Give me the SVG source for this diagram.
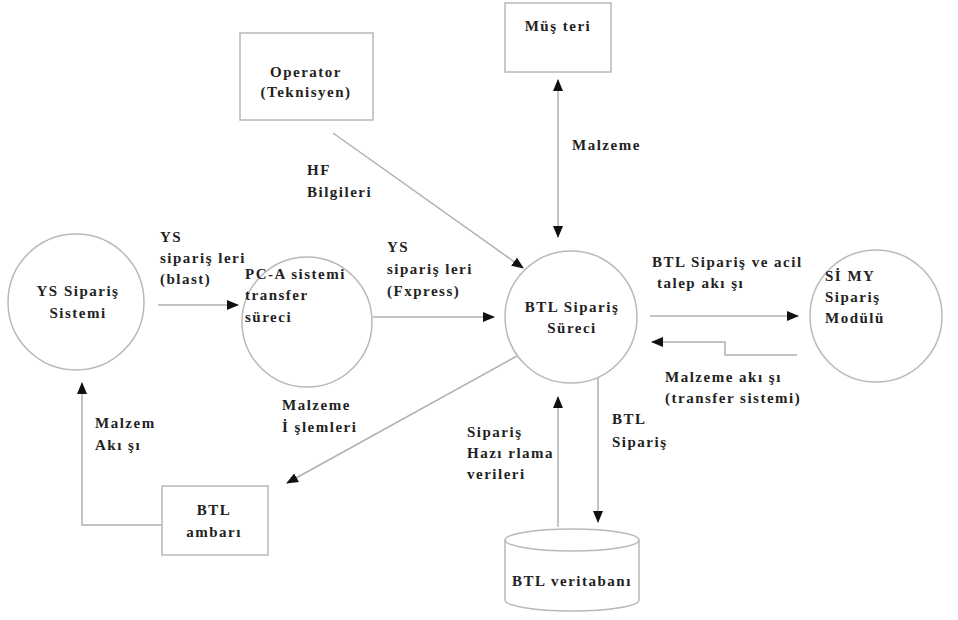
<svg xmlns="http://www.w3.org/2000/svg" width="958" height="620" viewBox="0 0 958 620">
  <style>
    .shape { fill: #fff; stroke: #b8b8b8; stroke-width: 1.5; }
    .flow { fill: none; stroke: #b0b0b0; stroke-width: 1.5; }
    text { font-family: "Liberation Serif", "Times New Roman", serif; font-size: 15px; font-weight: bold; fill: #222; letter-spacing: 1.5px; }
    .c { text-anchor: middle; }
  </style>
  <defs>
    <marker id="head" markerWidth="12" markerHeight="10" refX="11" refY="5" orient="auto-start-reverse" markerUnits="userSpaceOnUse">
      <path d="M0,0 L12,5 L0,10 z" fill="#111"/>
    </marker>
  </defs>
  <rect width="958" height="620" fill="#fff"/>

  <!-- data flows -->
  <g id="connectors">
    <path class="flow" d="M158,305 H238" marker-end="url(#head)"/>
    <path class="flow" d="M373,317 H494" marker-end="url(#head)"/>
    <path class="flow" d="M333,133 L523,268" marker-end="url(#head)"/>
    <path class="flow" d="M558,80 V237" marker-start="url(#head)" marker-end="url(#head)"/>
    <path class="flow" d="M650,316 H798" marker-end="url(#head)"/>
    <path class="flow" d="M797,355 H725 V342 H652" marker-end="url(#head)"/>
    <path class="flow" d="M517,356 L287,483" marker-end="url(#head)"/>
    <path class="flow" d="M162,525 H82 V383" marker-end="url(#head)"/>
    <path class="flow" d="M558,527 V397" marker-end="url(#head)"/>
    <path class="flow" d="M598,377 V522" marker-end="url(#head)"/>

    <text x="160" y="242">YS</text>
    <text x="160" y="263">sipariş leri</text>
    <text x="160" y="284">(blast)</text>

    <text x="387" y="252">YS</text>
    <text x="387" y="274">sipariş leri</text>
    <text x="387" y="296">(Fxpress)</text>

    <text x="307" y="175">HF</text>
    <text x="307" y="197">Bilgileri</text>

    <text x="572" y="150">Malzeme</text>

    <text x="652" y="267">BTL Sipariş ve acil</text>
    <text x="657" y="288">talep akı şı</text>

    <text x="665" y="382">Malzeme akı şı</text>
    <text x="665" y="403">(transfer sistemi)</text>

    <text x="282" y="410">Malzeme</text>
    <text x="282" y="432">İ şlemleri</text>

    <text x="95" y="428">Malzem</text>
    <text x="95" y="450">Akı şı</text>

    <text x="467" y="437">Sipariş</text>
    <text x="467" y="458">Hazı rlama</text>
    <text x="467" y="479">verileri</text>

    <text x="612" y="424">BTL</text>
    <text x="612" y="447">Sipariş</text>
  </g>

  <g id="operator">
    <rect class="shape" x="240" y="33" width="133" height="87"/>
    <text class="c" x="306" y="77">Operator</text>
    <text class="c" x="306" y="97">(Teknisyen)</text>
  </g>

  <g id="musteri">
    <rect class="shape" x="505" y="3" width="106" height="69"/>
    <text class="c" x="558" y="31">Müş teri</text>
  </g>

  <g id="ys-siparis">
    <circle class="shape" cx="76" cy="302" r="68"/>
    <text class="c" x="78" y="296">YS Sipariş</text>
    <text class="c" x="78" y="318">Sistemi</text>
  </g>

  <g id="pca">
    <circle class="shape" cx="307" cy="322" r="65"/>
    <text x="245" y="279">PC-A sistemi</text>
    <text x="245" y="300">transfer</text>
    <text x="245" y="322">süreci</text>
  </g>

  <g id="btl-surec">
    <circle class="shape" cx="571" cy="317" r="66"/>
    <text class="c" x="572" y="312">BTL Sipariş</text>
    <text class="c" x="572" y="333">Süreci</text>
  </g>

  <g id="simy">
    <circle class="shape" cx="876" cy="316" r="66"/>
    <text x="825" y="281">Sİ MY</text>
    <text x="825" y="302">Sipariş</text>
    <text x="825" y="323">Modülü</text>
  </g>

  <g id="ambar">
    <rect class="shape" x="162" y="486" width="106" height="69"/>
    <text class="c" x="214" y="515">BTL</text>
    <text class="c" x="214" y="537">ambarı</text>
  </g>

  <g id="veritabani">
    <path class="shape" d="M505,540 V600 A67,11 0 0 0 639,600 V540"/>
    <ellipse class="shape" cx="572" cy="540" rx="67" ry="11"/>
    <text class="c" x="572" y="586">BTL veritabanı</text>
  </g>
</svg>
